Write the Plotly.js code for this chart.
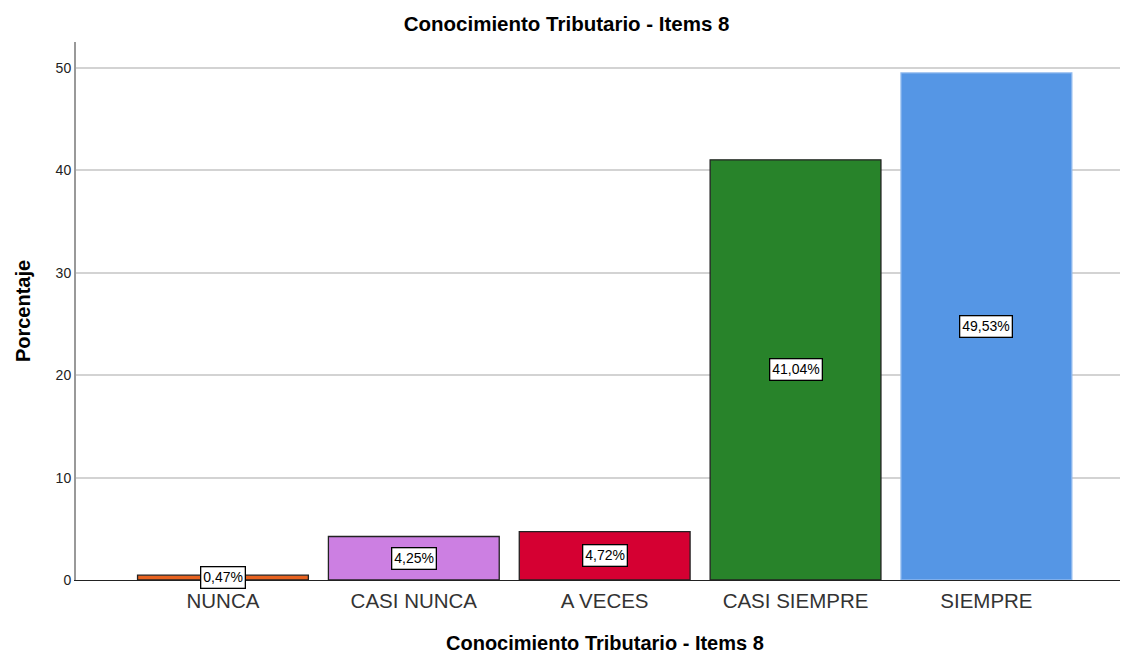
<!DOCTYPE html>
<html>
<head>
<meta charset="utf-8">
<script src="https://cdn.plot.ly/plotly-3.0.1.min.js"></script>
<style>html,body{margin:0;padding:0;background:#fff}#chart{width:1122px;height:655px}</style>
</head>
<body>
<div id="chart"></div>
<script>
const categories = ["NUNCA", "CASI NUNCA", "A VECES", "CASI SIEMPRE", "SIEMPRE"];
const values = [0.47, 4.25, 4.72, 41.04, 49.53];
const labels = ["0,47%", "4,25%", "4,72%", "41,04%", "49,53%"];
const colors = ["#E8621F", "#CC7FE2", "#D50032", "#28832A", "#5596E5"];
const outlines = ["#222222", "#222222", "#222222", "#222222", "#8DB8EE"];
const yTicks = [0, 10, 20, 30, 40, 50];

const idx = categories.map((_, i) => i);
const FONT = "Liberation Sans, Arial, sans-serif";

const trace = {
  type: "bar",
  x: idx,
  y: values,
  width: 0.895,
  marker: {color: colors, line: {color: outlines, width: 1.3}},
  hoverinfo: "none"
};

const annotations = values.map((v, i) => ({
  x: i, y: v / 2, xref: "x", yref: "y",
  text: labels[i], showarrow: false,
  font: {family: FONT, size: 14, color: "#000"},
  bgcolor: "#ffffff", bordercolor: "#000000", borderwidth: 1.3, borderpad: 2
}));

annotations.push({
  xref: "paper", yref: "paper", x: 0.507, y: 0, yanchor: "middle", yshift: -63,
  text: "<b>Conocimiento Tributario - Items 8</b>", showarrow: false,
  font: {family: FONT, size: 20, color: "#000"}
});

const layout = {
  width: 1122, height: 655,
  margin: {l: 76, r: 2, t: 42, b: 75},
  paper_bgcolor: "#fff", plot_bgcolor: "#fff",
  showlegend: false,
  title: {text: "<b>Conocimiento Tributario - Items 8</b>", x: 0.505, xref: "container", y: 0.963, yanchor: "middle",
          font: {family: FONT, size: 20.5, color: "#000"}},
  xaxis: {
    range: [-0.77, 4.70], tickvals: idx, ticktext: categories,
    tickfont: {family: FONT, size: 20.5, color: "#333"},
    showgrid: false, zeroline: false, showline: true, linecolor: "#222", linewidth: 1,
    ticks: "", ticklabelstandoff: 2
  },
  yaxis: {
    range: [0, 52.55], tickvals: yTicks, ticktext: yTicks.map(String),
    tickfont: {family: FONT, size: 14, color: "#222"},
    showgrid: true, gridcolor: "#D3D3D3", gridwidth: 2,
    zeroline: false, showline: true, linecolor: "#999", linewidth: 2,
    ticks: "",
    title: {text: "<b>Porcentaje</b>", standoff: 20, font: {family: FONT, size: 20, color: "#000"}}
  },
  annotations: annotations,
  bargap: 0.1
};

Plotly.newPlot("chart", [trace], layout, {displayModeBar: false, staticPlot: true});
</script>
</body>
</html>
